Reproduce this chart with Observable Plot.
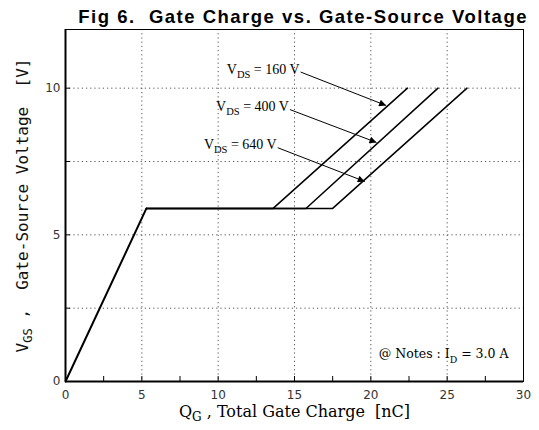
<!DOCTYPE html>
<html>
<head>
<meta charset="utf-8">
<script src="https://cdn.jsdelivr.net/npm/d3@7"></script>
<script src="https://cdn.jsdelivr.net/npm/@observablehq/plot@0.6"></script>
<style>
  html, body { margin: 0; padding: 0; background: #fff; }
  #wrap { width: 539px; height: 430px; position: relative; overflow: hidden; }
  #title { box-sizing: border-box; height: 24px; padding-top: 8px; padding-right: 11px; text-align: right;
    font: bold 18.5px/18px "Liberation Sans", Arial, sans-serif; letter-spacing: 1.5px; color: #000; white-space: pre; }
  svg { display: block; }
</style>
</head>
<body>
<div id="wrap">
  <div id="title">Fig 6.  Gate Charge vs. Gate-Source Voltage</div>
  <div id="chart"></div>
</div>
<script>
// ---- data ----
const qRamp = [0, 5.3];          // nC, common rising part
const vRamp = [0, 5.9];          // V
const vdsLabels = ["160 V", "400 V", "640 V"];
const plateauStartQ = 5.3;
const plateauV = 5.9;
const plateauEndQ = [13.6, 15.75, 17.5];
const topQ = [22.4, 24.4, 26.3];
const topV = 10;

const arrowX1 = [15.4, 14.7, 13.9];
const arrowY1 = [10.55, 9.27, 7.97];
const arrowX2 = [21.0, 20.37, 19.6];
const arrowY2 = [9.41, 8.15, 6.82];

const xLabelTicks = [0, 5, 10, 15, 20, 25, 30];
const xMinorTicks = [0, 2.5, 5, 7.5, 10, 12.5, 15, 17.5, 20, 22.5, 25, 27.5, 30];
const xGrid = [5, 10, 15, 20, 25];
const yLabelTicks = [0, 5, 10];
const yMinorTicks = [0, 2.5, 5, 7.5, 10];
const yGrid = [2.5, 5, 7.5, 10];

const xLabel = "Q_{G} , Total Gate Charge  [nC]";
const yLabel = "V_{GS} ,  Gate-Source Voltage  [V]";
const noteText = "@ Notes : I_{D} = 3.0 A";

// ---- build tables ----
const ramp = qRamp.map((q, i) => ({q, v: vRamp[i]}));
const curves = vdsLabels.flatMap((s, i) => [
  {s, q: plateauStartQ, v: plateauV},
  {s, q: plateauEndQ[i], v: plateauV},
  {s, q: topQ[i], v: topV}
]);
const arrows = vdsLabels.map((s, i) => ({
  label: "V_{DS} = " + s, x1: arrowX1[i], y1: arrowY1[i], x2: arrowX2[i], y2: arrowY2[i]
}));

const tickFont = "'DejaVu Sans', sans-serif";
const serif = "'Liberation Serif', serif";
const wideSerif = "'DejaVu Serif', serif";

const plot = Plot.plot({
  width: 539,
  height: 406,
  marginTop: 5,
  marginBottom: 49,
  marginLeft: 65,
  marginRight: 16,
  x: {domain: [0, 30]},
  y: {domain: [0, 12]},
  style: {background: "#fff", color: "#000"},
  marks: [
    Plot.gridX(xGrid, {stroke: "#555", strokeOpacity: 1, strokeDasharray: "1.2,3"}),
    Plot.gridY(yGrid, {stroke: "#555", strokeOpacity: 1, strokeDasharray: "1.2,3"}),
    Plot.axisX(xMinorTicks, {tickSize: -5, tickFormat: () => "", strokeWidth: 1}),
    Plot.axisY(yMinorTicks, {tickSize: -5, tickFormat: () => "", strokeWidth: 1}),
    Plot.axisX(xLabelTicks, {tickSize: 0, tickPadding: 9, fontSize: 12, fontFamily: tickFont, fill: "#333", label: null}),
    Plot.axisY(yLabelTicks, {tickSize: 0, tickPadding: 5, fontSize: 12, fontFamily: tickFont, fill: "#333", label: null}),
    Plot.frame({stroke: "#000", strokeWidth: 1}),
    Plot.ruleX([0], {stroke: "#000", strokeWidth: 2}),
    Plot.ruleY([0], {stroke: "#000", strokeWidth: 2}),
    Plot.line(ramp, {x: "q", y: "v", stroke: "#000", strokeWidth: 2}),
    Plot.line(curves, {x: "q", y: "v", z: "s", stroke: "#000", strokeWidth: 1.5}),
    Plot.link(arrows, {x1: "x1", y1: "y1", x2: "x2", y2: "y2", stroke: "#000", strokeWidth: 1}),
    Plot.text(arrows, {x: "x1", y: "y1", text: "label", textAnchor: "end", dx: -1, dy: -3,
      fontFamily: serif, fontSize: 14, fill: "#000"}),
    Plot.text([noteText], {frameAnchor: "bottom-right", dx: -15, dy: -24, textAnchor: "end",
      fontFamily: wideSerif, fontSize: 12.5, fill: "#000"}),
    Plot.text([xLabel], {frameAnchor: "bottom", dy: 35, fontFamily: wideSerif, fontSize: 16, fill: "#000"}),
    Plot.text([yLabel], {frameAnchor: "left", textAnchor: "middle", rotate: -90, dx: -43,
      fontFamily: "'DejaVu Sans Mono', monospace", fontSize: 16, fill: "#111"})
  ]
});

// arrowheads (filled triangles)
const svg = d3.select(plot);
const defs = svg.insert("defs", ":first-child");
defs.append("marker")
  .attr("id", "ahead").attr("viewBox", "0 0 10 10").attr("refX", 10).attr("refY", 5)
  .attr("markerWidth", 12).attr("markerHeight", 7).attr("markerUnits", "userSpaceOnUse")
  .attr("orient", "auto")
  .append("path").attr("d", "M0,0L10,5L0,10Z").attr("fill", "#000");
svg.selectAll('g[aria-label="link"] path').attr("marker-end", "url(#ahead)");

// subscripts
plot.querySelectorAll("text").forEach(t => {
  const s = t.textContent;
  if (!s.includes("_{")) return;
  const deep = s.startsWith("@");
  const parts = s.split(/_\{([^}]*)\}/);
  while (t.firstChild) t.removeChild(t.firstChild);
  parts.forEach((p, i) => {
    if (p === "") return;
    const ts = document.createElementNS("http://www.w3.org/2000/svg", "tspan");
    ts.textContent = p;
    if (i % 2 === 1) {
      ts.setAttribute("font-size", "75%");
      ts.setAttribute("baseline-shift", deep ? "-60%" : "-35%");
    }
    t.appendChild(ts);
  });
});

document.getElementById("chart").appendChild(plot);
</script>
</body>
</html>
